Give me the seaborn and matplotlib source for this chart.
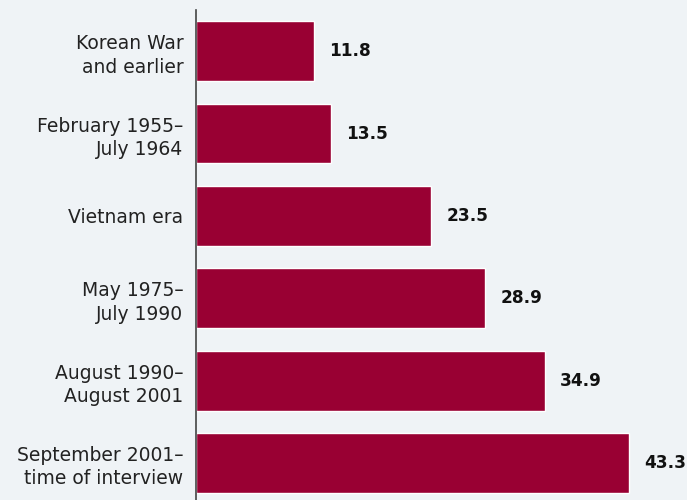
import numpy as np
import pandas as pd
import matplotlib.pyplot as plt
import seaborn as sns

categories = ["Korean War\nand earlier", "February 1955–\nJuly 1964", "Vietnam era",
              "May 1975–\nJuly 1990", "August 1990–\nAugust 2001",
              "September 2001–\ntime of interview"]
values = [11.8, 13.5, 23.5, 28.9, 34.9, 43.3]

bg = "#eff3f6"
bar_color = "#990033"

sns.set_theme(style="white")
plt.rcParams["font.family"] = ["DejaVu Sans"]

df = pd.DataFrame({"period": categories, "value": values})

fig = plt.figure(figsize=(6.87, 5.0), dpi=100, facecolor=bg)
ax = fig.add_axes([0.285, 0.0, 0.715, 0.98])
ax.set_facecolor(bg)

sns.barplot(data=df, x="value", y="period", color=bar_color, width=0.727,
            saturation=1, ax=ax)

for i, v in enumerate(values):
    ax.annotate(f"{v:.1f}", xy=(v, i), xytext=(11, 0), textcoords="offset points",
                va="center", ha="left", fontsize=12.2, fontweight="bold", color="#111111")

ax.set_xlim(0, 49.1)
ax.set_ylim(5.45, -0.5)
ax.set_xlabel("")
ax.set_ylabel("")
ax.set_xticks([])
ax.tick_params(axis="y", length=0, pad=9, labelsize=13.5, labelcolor="#222222")
for lbl in ax.get_yticklabels():
    lbl.set_linespacing(1.3)

for s in ["top", "right", "bottom"]:
    ax.spines[s].set_visible(False)
ax.spines["left"].set_color("#444444")
ax.spines["left"].set_linewidth(1.2)

fig.savefig("out.png", dpi=100, facecolor=bg)
